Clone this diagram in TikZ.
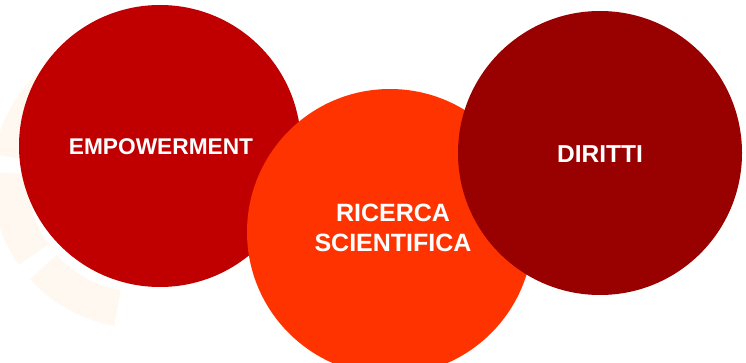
\documentclass[tikz,border=0pt]{standalone}
\usepackage{fontspec}
\setmainfont{Liberation Sans}
\definecolor{empred}{HTML}{C00000}
\definecolor{ricorange}{HTML}{FF3300}
\definecolor{dirred}{HTML}{990000}
\definecolor{wmark}{HTML}{FEF8F1}
\begin{document}
\begin{tikzpicture}[x=1pt,y=-1pt,
  bubble/.style={circle,inner sep=0pt,minimum size=#1},
  label/.style={text=white,font=\fontsize{#1}{29.5}\selectfont\bfseries,align=center}]
\useasboundingbox (0,0) rectangle (746,363);
\fill[white] (0,0) rectangle (746,363);
% faint watermark ring
\foreach \a in {100,145,190,235}{
  \pgfmathsetmacro{\b}{\a+38}
  \fill[wmark] (140,180) ++(\a:112) arc[start angle=\a,end angle=\b,radius=112]
    -- ++(\b:36) arc[start angle=\b,end angle=\a,radius=148] -- cycle;
}
\node[bubble=282pt,fill=empred] (emp) at (160,146) {};
\node[bubble=286pt,fill=ricorange] (ric) at (390,232) {};
\node[bubble=284pt,fill=dirred] (dir) at (600,153) {};
\node[label=22.7] (empt) at (161,146.5) {EMPOWERMENT};
\node[label=25] (rict) at (393,228) {RICERCA\\SCIENTIFICA};
\node[label=24.5] (dirt) at (600,154.5) {DIRITTI};
\end{tikzpicture}
\end{document}
